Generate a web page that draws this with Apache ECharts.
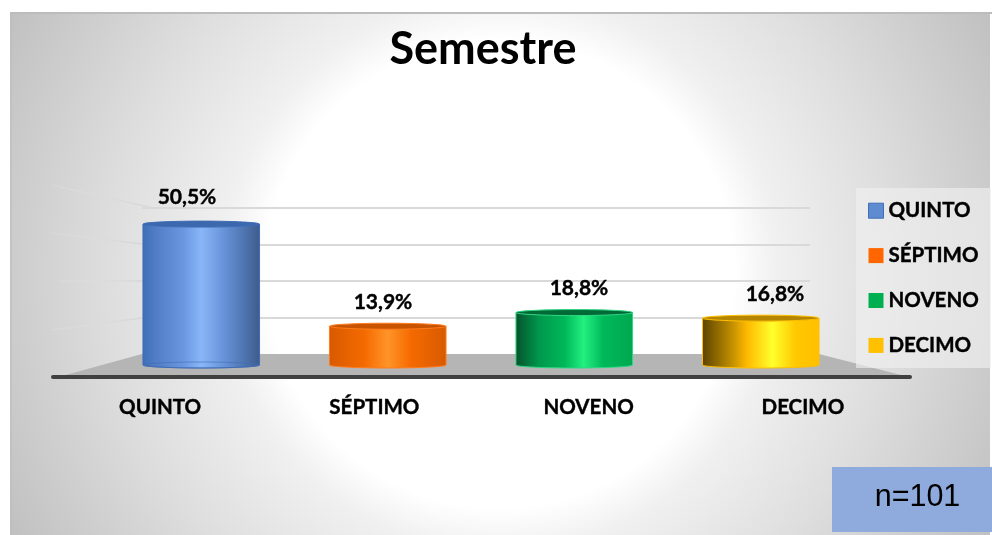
<!DOCTYPE html>
<html>
<head>
<meta charset="utf-8">
<style>html,body{margin:0;padding:0;background:#fff}#chart{width:992px;height:535px}</style>
<script src="https://cdn.jsdelivr.net/npm/echarts@6/dist/echarts.min.js"></script>
</head>
<body>
<div id="chart"></div>
<script>
const categories = ['QUINTO', 'SÉPTIMO', 'NOVENO', 'DECIMO']
const percentages = [50.5, 13.9, 18.8, 16.8]
const wallTicks = [0, 15, 30, 45, 60]
const sampleLabel = 'n=101'

const font = 'Lato'
const G = echarts.graphic

// colores de cada cilindro: [posicion, color] del degradado, tapa y borde
const bodyStops = [
  [[0, '#3f6fb8'], [0.1, '#4f7cc4'], [0.35, '#6a97e0'], [0.5, '#8ab6f8'], [0.68, '#6a95dc'], [0.88, '#4d73ad'], [1, '#3f5c8c']],
  [[0, '#d85a00'], [0.3, '#f56a00'], [0.5, '#ff9428'], [0.7, '#f56a00'], [1, '#d85a00']],
  [[0, '#04542c'], [0.2, '#00984c'], [0.42, '#00b859'], [0.58, '#22f080'], [0.75, '#00b859'], [1, '#00a850']],
  [[0, '#5c4300'], [0.25, '#c08e00'], [0.38, '#ffb800'], [0.6, '#ffff2c'], [0.8, '#ffc800'], [1, '#ffc000']]
]
const capColors = ['#3c68ae', '#c95400', '#026a36', '#b58500']
const edgeColors = ['#3f6db6', '#ff7c1e', '#2ed884', '#ffc000']
const legendColors = ['#5f8bd0', '#ff6600', '#00b050', '#ffc000']

const cylinder = (i) => (params, api) => {
  const top = api.coord([api.value(0), api.value(1)])
  const bottom = api.coord([api.value(0), 0])
  const w = api.size([1, 0])[0] * 0.625
  const x = top[0] - w / 2
  const fill = new G.LinearGradient(0, 0, 1, 0, bodyStops[i].map(s => ({ offset: s[0], color: s[1] })))
  const style = { fill: fill, stroke: edgeColors[i], lineWidth: 1 }
  const children = [
    { type: 'ellipse', shape: { cx: top[0], cy: bottom[1], rx: w / 2, ry: 3 }, style: style },
    { type: 'rect', shape: { x: x, y: top[1], width: w, height: bottom[1] - top[1] }, style: { fill: fill } },
    { type: 'line', shape: { x1: x, y1: top[1], x2: x, y2: bottom[1] }, style: { stroke: edgeColors[i], lineWidth: 1 } },
    { type: 'line', shape: { x1: x + w, y1: top[1], x2: x + w, y2: bottom[1] }, style: { stroke: edgeColors[i], lineWidth: 1 } },
    { type: 'ellipse', shape: { cx: top[0], cy: top[1], rx: w / 2, ry: 3 }, style: { fill: capColors[i], stroke: edgeColors[i], lineWidth: 1 } }
  ]
  // el cilindro azul deja ver la base a traves del cuerpo
  if (i === 0) {
    children.push({ type: 'ellipse', shape: { cx: top[0], cy: bottom[1], rx: w / 2, ry: 3 }, style: { fill: 'none', stroke: edgeColors[i], lineWidth: 1, opacity: 0.6 } })
  }
  return { type: 'group', children: children }
}

// las lineas de la pared lateral se desvanecen hacia la izquierda
const wallLine = (pts) => ({
  type: 'polyline', z: -5, shape: { points: pts },
  style: {
    fill: 'none', lineWidth: 1.5,
    stroke: new G.LinearGradient(pts[0][0], 0, pts[1][0], 0, [
      { offset: 0, color: 'rgba(225,225,225,0.3)' }, { offset: 1, color: '#d6d6d6' }
    ], true)
  }
})

const hiddenCategory = (gridIndex) => ({
  type: 'category', gridIndex: gridIndex, data: categories,
  axisLine: { show: false }, axisTick: { show: false }, axisLabel: { show: false }
})
const hiddenValue = (gridIndex) => ({
  type: 'value', gridIndex: gridIndex, min: wallTicks[0], max: wallTicks[wallTicks.length - 1],
  interval: wallTicks[1] - wallTicks[0],
  axisLine: { show: false }, axisTick: { show: false }, axisLabel: { show: false }, splitLine: { show: false }
})

const chart = echarts.init(document.getElementById('chart'))
chart.setOption({
  animation: false,
  textStyle: { fontFamily: font },
  title: {
    text: 'Semestre', left: 478, top: 22, textAlign: 'center',
    textStyle: { fontFamily: font, fontWeight: 'bold', fontSize: 45, color: '#000' }
  },
  graphic: [
    {
      type: 'rect', z: -10, shape: { x: 10, y: 13, width: 980, height: 522 },
      style: { fill: new G.RadialGradient(500, 274, 557, [
        { offset: 0, color: '#ffffff' }, { offset: 0.42, color: '#ffffff' }, { offset: 0.5, color: '#f0f0f0' },
        { offset: 0.7, color: '#dedede' }, { offset: 1, color: '#c0c0c0' }
      ], true) }
    },
    { type: 'line', z: -9, shape: { x1: 10, y1: 13, x2: 992, y2: 13 }, style: { stroke: '#bcbcbc', lineWidth: 2 } },
    { type: 'line', z: -9, shape: { x1: 11, y1: 13, x2: 11, y2: 535 }, style: { stroke: '#bcbcbc', lineWidth: 1.5, opacity: 0.7 } },
    wallLine([[52, 185], [153, 208]]),
    wallLine([[52, 233], [142, 244]]),
    wallLine([[60, 281], [142, 281]]),
    wallLine([[52, 330], [142, 318]]),
    {
      type: 'polygon', z: -3, shape: { points: [[62, 376], [142, 354], [819, 354], [905, 376]] },
      style: { fill: '#b5b5b5' }
    },
    {
      type: 'group', z: 10, children: [
        { type: 'rect', shape: { x: 832, y: 467, width: 160, height: 65 }, style: { fill: '#8faadc' } },
        { type: 'text', x: 917.5, y: 498, style: {
          text: sampleLabel, fontFamily: 'Liberation Sans', fontSize: 30.5, fill: '#000', align: 'center', verticalAlign: 'middle'
        } }
      ]
    }
  ],
  legend: {
    left: 856, top: 188, orient: 'vertical',
    backgroundColor: 'rgba(240,240,240,0.65)',
    padding: [12, 12, 12, 12],
    itemWidth: 15, itemHeight: 15, itemGap: 23.5,
    icon: 'rect',
    textStyle: { fontFamily: font, fontWeight: 'bold', fontSize: 20.5, color: '#000', textBorderColor: '#000', textBorderWidth: 0.4, padding: [0, 0, 0, 0] },
    data: categories.map((name, i) => ({
      name: name,
      itemStyle: { color: legendColors[i], borderWidth: i === 0 ? 1 : 0, borderColor: '#3f6db6' }
    }))
  },
  grid: [
    { left: 142, width: 668, top: 208, height: 146 },
    { left: 53, width: 857, top: 360, height: 17 },
    { left: 108, width: 746, top: 197.6, height: 167.4 },
    { left: 89, width: 784, top: 195, height: 172 }
  ],
  xAxis: [
    hiddenCategory(0),
    {
      type: 'category', gridIndex: 1, data: categories,
      axisTick: { show: false },
      axisLine: { lineStyle: { color: '#404040', width: 4, cap: 'round' } },
      axisLabel: { margin: 20, fontFamily: font, fontWeight: 'bold', fontSize: 20.5, color: '#000', textBorderColor: '#000', textBorderWidth: 0.4 }
    },
    hiddenCategory(2),
    hiddenCategory(3)
  ],
  yAxis: [
    {
      type: 'value', gridIndex: 0, min: wallTicks[0], max: wallTicks[wallTicks.length - 1],
      interval: wallTicks[1] - wallTicks[0],
      axisLine: { show: false }, axisTick: { show: false }, axisLabel: { show: false },
      splitLine: { showMinLine: false, lineStyle: { color: '#d9d9d9', width: 2 } }
    },
    hiddenValue(1),
    hiddenValue(2),
    hiddenValue(3)
  ],
  series: categories.map((name, i) => ({
    name: name,
    type: 'custom',
    xAxisIndex: 2,
    yAxisIndex: 2,
    z: 3,
    itemStyle: { color: legendColors[i] },
    renderItem: cylinder(i),
    encode: { x: 0, y: 1 },
    data: [[i, percentages[i]]]
  })).concat([{
    type: 'scatter',
    xAxisIndex: 3,
    yAxisIndex: 3,
    z: 5,
    symbolSize: 0,
    silent: true,
    itemStyle: { opacity: 1 },
    label: {
      show: true, position: 'top', distance: 14,
      fontFamily: font, fontWeight: 'bold', fontSize: 21, color: '#000', textBorderColor: '#000', textBorderWidth: 0.4,
      formatter: (p) => p.value[1].toFixed(1).replace('.', ',') + '%'
    },
    data: percentages.map((v, i) => [i, v])
  }])
})
</script>
</body>
</html>
